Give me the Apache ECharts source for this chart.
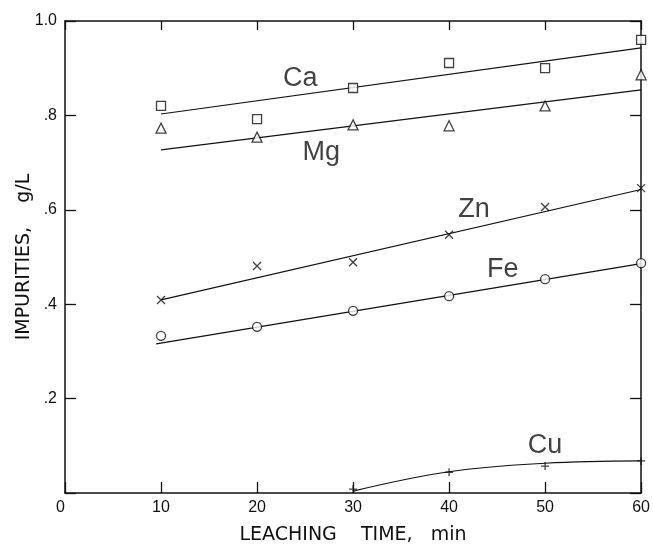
<!DOCTYPE html>
<html>
<head>
<meta charset="utf-8">
<script src="https://cdn.jsdelivr.net/npm/echarts@6/dist/echarts.min.js"></script>
<style>html,body{margin:0;padding:0;background:#fff}#c{width:653px;height:551px}</style>
</head>
<body>
<div id="c"></div>
<script>
// Measured points (x = leaching time in min, y = impurities g/L)
const times = [10, 20, 30, 40, 50, 60];
const caVals = [0.820, 0.792, 0.858, 0.911, 0.900, 0.960];
const mgVals = [0.773, 0.754, 0.780, 0.778, 0.820, 0.886];
const znVals = [0.409, 0.481, 0.489, 0.547, 0.606, 0.646];
const feVals = [0.333, 0.352, 0.386, 0.417, 0.453, 0.487];
const cuTimes = [30, 40, 50, 60];
const cuVals = [0.008, 0.044, 0.057, 0.068];

// Fitted lines / curve
const caFit = [[10, 0.803], [60, 0.943]];
const mgFit = [[10, 0.727], [60, 0.854]];
const znFit = [[10, 0.409], [60, 0.643]];
const feFit = [[9.5, 0.316], [60, 0.486]];
const cuFit = [[30, 0.004], [40, 0.045], [50, 0.063], [60, 0.068]];

// Series names and label anchor positions (data coordinates)
const seriesNames = ['Ca', 'Mg', 'Zn', 'Fe', 'Cu'];
const labelPos = [[24.5, 0.879], [26.7, 0.722], [42.6, 0.601], [45.6, 0.474], [50.0, 0.101]];

// Axis ticks
const xTicks = [0, 10, 20, 30, 40, 50, 60];
const yTickLabels = ['', '.2', '.4', '.6', '.8', '1.0'];

const FONT = 'Liberation Sans';
const TITLE_FONT = 'DejaVu Sans';
const INK = '#111';

const pts = (xs, ys) => xs.map((x, i) => [x, ys[i]]);

function fitLine(d, smooth) {
  return {
    type: 'line', data: d, showSymbol: false, smooth: smooth ? 0.4 : false,
    lineStyle: { color: INK, width: 1.2 }, silent: true, z: 2
  };
}
function marks(d, symbol, size) {
  return {
    type: 'scatter', data: d, symbol: symbol, symbolSize: size,
    itemStyle: { color: '#fff', borderColor: INK, borderWidth: 1.3 }, z: 3
  };
}

const crossPath = 'path://M0,0L10,10M10,0L0,10';
const plusPath = 'path://M5,0L5,10M0,5L10,5';

const axisLineStyle = { show: true, onZero: false, lineStyle: { color: INK, width: 1.5 } };

const option = {
  animation: false,
  backgroundColor: '#fff',
  grid: { left: 65, right: 11, top: 21, bottom: 58 },
  xAxis: [{
    type: 'value', min: 0, max: 60, interval: 10,
    name: 'LEACHING    TIME,   min', nameLocation: 'middle', nameGap: 33, nameMoveOverlap: false,
    nameTextStyle: { fontFamily: TITLE_FONT, fontSize: 19, color: INK },
    axisLine: axisLineStyle,
    axisTick: { show: true, inside: true, length: 11, lineStyle: { color: INK, width: 1.3 } },
    axisLabel: { fontFamily: FONT, fontSize: 16, color: INK, margin: 7, alignMinLabel: 'right',
      formatter: v => String(xTicks[xTicks.indexOf(v)]) },
    splitLine: { show: false }
  }, {
    type: 'value', position: 'top', min: 0, max: 60, interval: 10,
    axisLine: axisLineStyle,
    axisTick: { show: true, inside: true, length: 9, lineStyle: { color: INK, width: 1.3 } },
    axisLabel: { show: false }, splitLine: { show: false }
  }],
  yAxis: [{
    type: 'value', min: 0, max: 1, interval: 0.2,
    name: 'IMPURITIES,    g/L', nameLocation: 'middle', nameGap: 31, nameRotate: 90,
    nameMoveOverlap: false,
    nameTextStyle: { fontFamily: TITLE_FONT, fontSize: 19, color: INK },
    axisLine: axisLineStyle,
    axisTick: { show: true, inside: true, length: 11, lineStyle: { color: INK, width: 1.3 } },
    axisLabel: { fontFamily: FONT, fontSize: 16, color: INK, margin: 8,
      formatter: v => yTickLabels[Math.round(v * 5)] },
    splitLine: { show: false }
  }, {
    type: 'value', position: 'right', min: 0, max: 1, interval: 0.2,
    axisLine: axisLineStyle,
    axisTick: { show: true, inside: true, length: 11, lineStyle: { color: INK, width: 1.3 } },
    axisLabel: { show: false }, splitLine: { show: false }
  }],
  series: [
    fitLine(caFit), fitLine(mgFit), fitLine(znFit), fitLine(feFit), fitLine(cuFit, true),
    marks(pts(times, caVals), 'rect', 9),
    marks(pts(times, mgVals), 'triangle', 10),
    marks(pts(times, znVals), crossPath, 8),
    marks(pts(times, feVals), 'circle', 9),
    marks(pts(cuTimes, cuVals), plusPath, 8),
    {
      type: 'scatter', symbolSize: 0, silent: true, z: 4,
      data: labelPos.map((p, i) => ({ value: p, name: seriesNames[i] })),
      label: { show: true, position: 'inside', formatter: p => p.name,
        fontFamily: FONT, fontSize: 27, color: INK }
    }
  ]
};

const chart = echarts.init(document.getElementById('c'), null, { renderer: 'canvas' });
chart.setOption(option);
</script>
</body>
</html>
